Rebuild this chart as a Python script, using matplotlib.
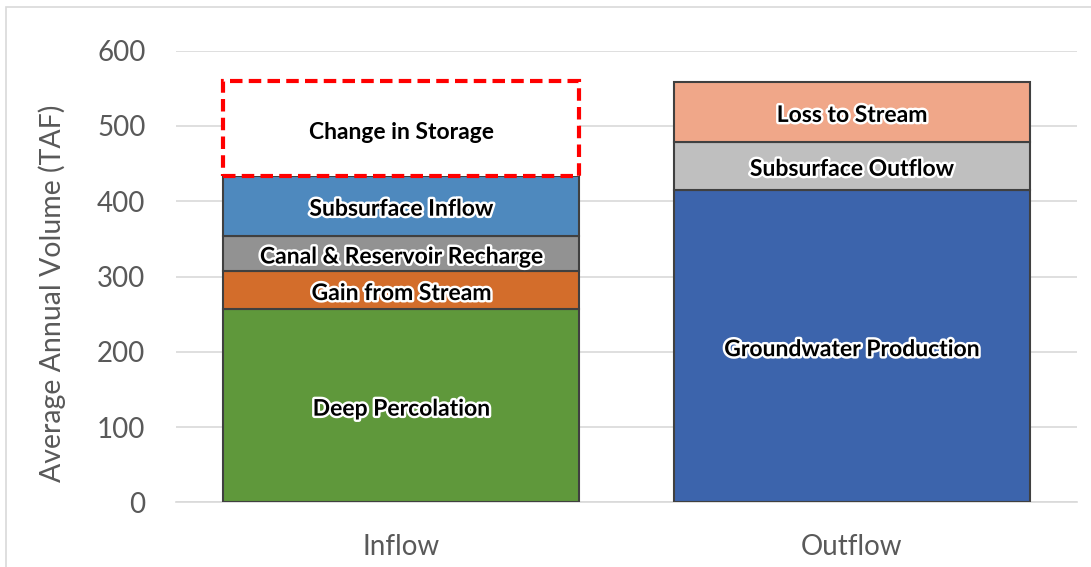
import matplotlib
matplotlib.use("Agg")
import matplotlib.pyplot as plt
import matplotlib.patheffects as pe
from matplotlib.patches import Rectangle

categories = ["Inflow", "Outflow"]

inflow_labels = ["Deep Percolation", "Gain from Stream", "Canal & Reservoir Recharge",
                 "Subsurface Inflow", "Change in Storage"]
inflow_values = [257, 50, 47, 80, 125]
inflow_colors = ["#5F983B", "#D36D2B", "#929292", "#4E89BE", "#FFFFFF"]

outflow_labels = ["Groundwater Production", "Subsurface Outflow", "Loss to Stream"]
outflow_values = [415, 64, 79]
outflow_colors = ["#3C64AC", "#BFBFBF", "#F0A789"]

yticks = [0, 100, 200, 300, 400, 500, 600]

plt.rcParams['font.family'] = ['Lato', 'DejaVu Sans']

fig = plt.figure(figsize=(10.91, 5.67), dpi=100)
ax = fig.add_axes([0.1613, 0.1138, 0.8259, 0.797])

# outer chart frame
fig.patches.append(Rectangle((6/1091, -0.1), 1.2, 1 - 7/567 + 0.1, transform=fig.transFigure,
                             fill=False, edgecolor="#D9D9D9", linewidth=1.2))

width = 0.79
glow = [pe.withStroke(linewidth=3.5, foreground="white")]
label_size = 16.5

def draw_stack(x, values, colors, labels):
    bottom = 0
    for v, c, lab in zip(values, colors, labels):
        if lab == "Change in Storage":
            ax.bar(x, v, width, bottom=bottom, color="white", edgecolor="#FF0000",
                   linewidth=3, linestyle=(0, (3, 1.5)), zorder=3)
            ax.annotate(lab, (x, bottom + v / 2), xytext=(0, -2.5), textcoords="offset points",
                        ha="center", va="center", fontsize=label_size,
                        fontweight="bold", color="black", zorder=4)
        else:
            ax.bar(x, v, width, bottom=bottom, color=c, edgecolor="#404040",
                   linewidth=1.5, zorder=3)
            ax.annotate(lab, (x, bottom + v / 2), xytext=(0, -2.5), textcoords="offset points",
                        ha="center", va="center", fontsize=label_size,
                        fontweight="bold", color="black", zorder=4, path_effects=glow)
        bottom += v

draw_stack(0, inflow_values, inflow_colors, inflow_labels)
draw_stack(1, outflow_values, outflow_colors, outflow_labels)

ax.set_xlim(-0.5, 1.5)
ax.set_ylim(0, 600)
ax.set_yticks(yticks)
ax.set_xticks([0, 1])
ax.set_xticklabels(categories)
ax.tick_params(axis="both", length=0, labelsize=20, colors="#595959")
ax.tick_params(axis="y", pad=22)
ax.tick_params(axis="x", pad=23)
ax.yaxis.grid(True, color="#D9D9D9", linewidth=1.2, zorder=0)
ax.set_axisbelow(True)
for s in ["top", "right", "left"]:
    ax.spines[s].set_visible(False)
ax.spines["bottom"].set_color("#D9D9D9")
ax.spines["bottom"].set_linewidth(1.2)
fig.text(52/1091, 1 - 293/567, "Average Annual Volume (TAF)", rotation=90,
         ha="center", va="center", fontsize=20.5, color="#595959")

fig.savefig("out.png", dpi=100)
